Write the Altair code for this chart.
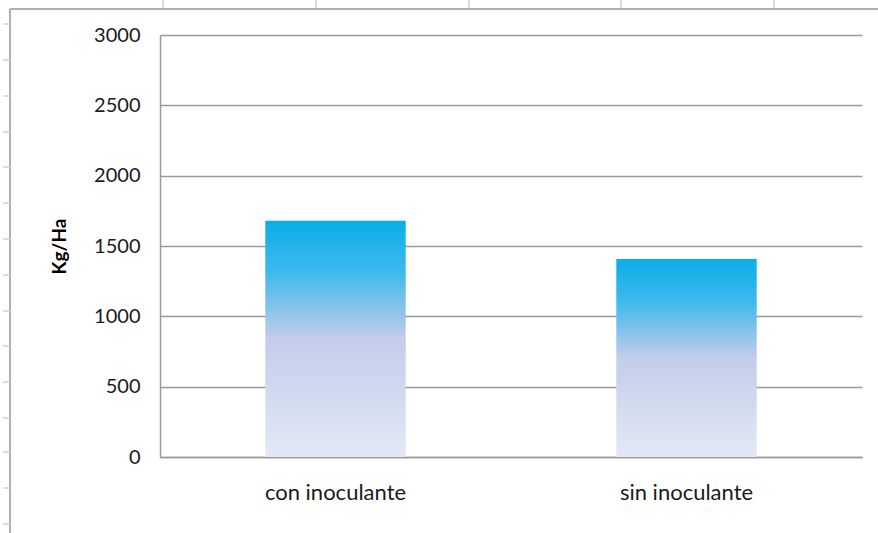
import altair as alt
import pandas as pd

# Yield per treatment (kg/ha)
categories = ["con inoculante", "sin inoculante"]
yields = [1680, 1408]
y_ticks = [0, 500, 1000, 1500, 2000, 2500, 3000]

df = pd.DataFrame({"tratamiento": categories, "rendimiento": yields})

PLOT_W, PLOT_H = 702, 422
LEFT, TOP = 160, 35
FONT = "Lato"
GRID = "#9a9a9a"
FRAME = "#b0b0b0"

bar_fill = alt.Gradient(
    gradient="linear",
    x1=0, x2=0, y1=0, y2=1,
    stops=[
        alt.GradientStop(offset=0.0, color="#0aaeea"),
        alt.GradientStop(offset=0.22, color="#3fb9ec"),
        alt.GradientStop(offset=0.50, color="#c3cdea"),
        alt.GradientStop(offset=1.0, color="#e2e9f5"),
    ],
)

bars = alt.Chart(df).mark_bar(fill=bar_fill, stroke=None).encode(
    x=alt.X(
        "tratamiento:N",
        sort=categories,
        scale=alt.Scale(paddingInner=0.6, paddingOuter=0.3),
        axis=alt.Axis(
            title=None,
            labelAngle=0,
            labelFont=FONT,
            labelFontSize=22,
            labelColor="#1a1a1a",
            labelPadding=25,
            ticks=False,
            domainColor=GRID,
            domainWidth=1.5,
        ),
    ),
    y=alt.Y(
        "rendimiento:Q",
        scale=alt.Scale(domain=[0, 3000], nice=False),
        axis=alt.Axis(
            title="Kg/Ha",
            titleFont=FONT,
            titleFontSize=19,
            titleFontWeight="bold",
            titleColor="#000000",
            titlePadding=24,
            values=y_ticks,
            format="d",
            labelFont=FONT,
            labelFontSize=20,
            labelColor="#1a1a1a",
            labelPadding=20,
            ticks=False,
            grid=True,
            gridColor=GRID,
            gridWidth=1.5,
            domainColor=GRID,
            domainWidth=1.5,
        ),
    ),
)

# Outer chart-area frame (left and top edges) and the faint sheet cell marks
frame_left = alt.Chart(df).mark_rule(color=FRAME, strokeWidth=2).encode(
    x=alt.value(10 - LEFT), y=alt.value(9 - TOP), y2=alt.value(533 - TOP)
)
frame_top = alt.Chart(df).mark_rule(color=FRAME, strokeWidth=2).encode(
    x=alt.value(10 - LEFT), x2=alt.value(878 - LEFT), y=alt.value(9 - TOP)
)
sheet_marks = []
for cx in [163, 316, 469, 621, 774]:
    sheet_marks.append(
        alt.Chart(df).mark_rule(color="#d0d0d0", strokeWidth=1).encode(
            x=alt.value(cx - LEFT), y=alt.value(0 - TOP), y2=alt.value(8 - TOP)
        )
    )
for ry in [24, 60, 96, 132, 167, 203, 239, 275, 311, 346, 382, 418, 452, 488, 524]:
    sheet_marks.append(
        alt.Chart(df).mark_rule(color="#d0d0d0", strokeWidth=1).encode(
            x=alt.value(3 - LEFT), x2=alt.value(10 - LEFT), y=alt.value(ry - TOP)
        )
    )

chart = alt.layer(bars, frame_left, frame_top, *sheet_marks).properties(
    width=PLOT_W,
    height=PLOT_H,
    padding={"left": LEFT, "top": TOP, "right": 878 - LEFT - PLOT_W, "bottom": 533 - TOP - PLOT_H},
    autosize=alt.AutoSizeParams(type="none"),
    background="#ffffff",
).configure_view(stroke=None)

chart.save("out.html", embed_options={"renderer": "svg", "actions": False})
